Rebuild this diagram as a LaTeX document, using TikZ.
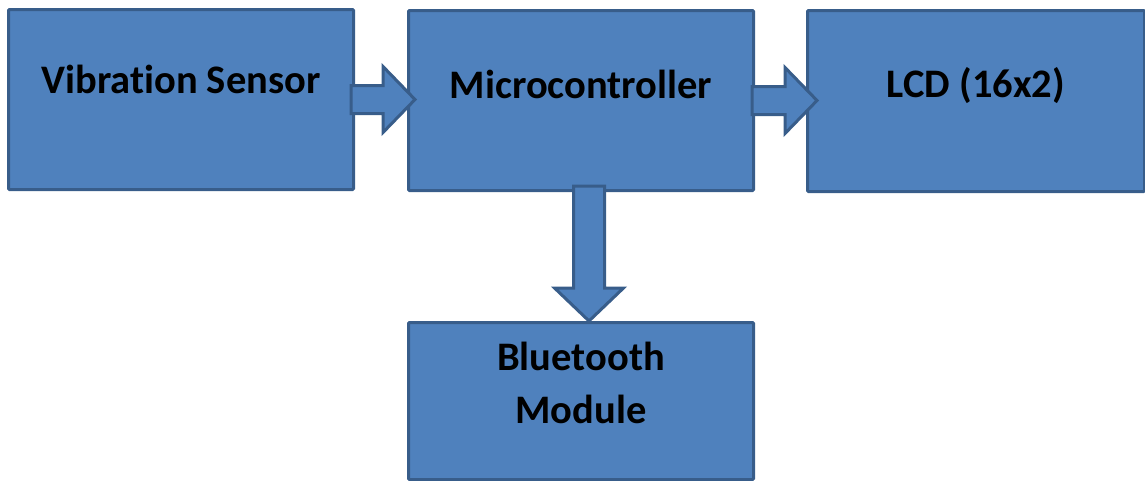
\documentclass[tikz,border=0pt]{standalone}
\usepackage{fontspec}
\setmainfont[Ligatures=NoCommon]{Carlito}
\usetikzlibrary{calc}
\definecolor{boxblue}{HTML}{4F81BD}
\definecolor{boxedge}{HTML}{385D8A}
\tikzset{
    block/.style={draw=boxedge,fill=boxblue,line width=3pt,rounded corners=1pt,anchor=north west,inner sep=0pt},
    blocktext/.style={font=\fontsize{40.5}{48}\selectfont\bfseries,text=black,anchor=base,inner sep=0pt},
    blockarrow/.style={draw=boxedge,fill=boxblue,line width=3pt,line join=miter}
}
\begin{document}
\begin{tikzpicture}[x=1pt,y=-1pt]
    \useasboundingbox (0,0) rectangle (1145,480);
    %draw boxes
    \node [block,minimum width=345pt,minimum height=180pt] (vib) at (7,8) {};
    \node [block,minimum width=345pt,minimum height=180pt] (mcu) at (407,9) {};
    \node [block,minimum width=337pt,minimum height=181pt] (lcd) at (806,9) {};
    \node [block,minimum width=345pt,minimum height=157pt] (bt) at (407,321) {};
    %draw texts
    \node [blocktext] (vibtext) at ($(vib.north)+(0,85)$) {Vibration Sensor};
    \node [blocktext] (mcutext) at ($(mcu.north)+(0,89)$) {Microcontroller};
    \node [blocktext] (lcdtext) at ($(lcd.north)+(0,88)$) {LCD (16x2)};
    \node [blocktext] (bttext) at ($(bt.north)+(0,49)$) {Bluetooth};
    \node [blocktext] (modtext) at ($(bt.north)+(0,102)$) {Module};
    %draw arrows
    \draw [blockarrow] (vib.east) ++(-4,-14) -- ++(32,0) -- ++(0,-19) -- ++(32,33)
        -- ++(-32,33) -- ++(0,-19) -- ++(-32,0) -- cycle;
    \draw [blockarrow] (mcu.east) ++(-3,-14) -- ++(33,0) -- ++(0,-19) -- ++(32,33)
        -- ++(-32,33) -- ++(0,-19) -- ++(-33,0) -- cycle;
    \draw [blockarrow] (mcu.south) ++(-7.5,-6) -- ++(0,102) -- ++(-19,0) -- ++(34.5,33)
        -- ++(34.5,-33) -- ++(-19,0) -- ++(0,-102) -- cycle;
\end{tikzpicture}
\end{document}
